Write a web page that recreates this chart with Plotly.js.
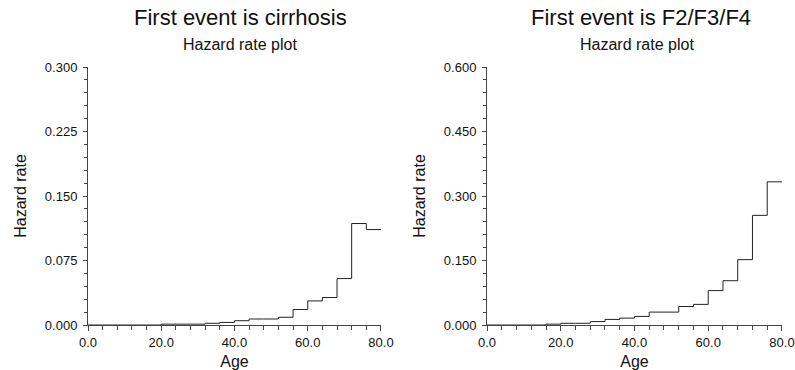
<!DOCTYPE html>
<html>
<head>
<meta charset="utf-8">
<script src="https://cdn.plot.ly/plotly-3.0.1.min.js"></script>
<style>html,body{margin:0;padding:0;background:#fff;}#chart{width:795px;height:370px;}</style>
</head>
<body>
<div id="chart"></div>
<script>
// Age bin edges (4-year intervals), last edge closes the final step
const ageEdges = [0, 4, 8, 12, 16, 20, 24, 28, 32, 36, 40, 44, 48, 52, 56, 60, 64, 68, 72, 76, 80];
// Hazard rate per bin, first event is cirrhosis
const hazardCirrhosis = [0, 0, 0, 0, 0, 0.001, 0.001, 0.001, 0.002, 0.003, 0.005, 0.007, 0.007, 0.009, 0.018, 0.028, 0.032, 0.054, 0.118, 0.111];
// Hazard rate per bin, first event is F2/F3/F4
const hazardF234 = [0, 0, 0, 0, 0.002, 0.004, 0.004, 0.008, 0.013, 0.016, 0.020, 0.030, 0.030, 0.043, 0.048, 0.080, 0.103, 0.152, 0.255, 0.333];

const titles = ["First event is cirrhosis", "First event is F2/F3/F4"];
const subtitle = "Hazard rate plot";
const xTickVals = [0, 20, 40, 60, 80];
const yTickValsLeft = [0, 0.075, 0.150, 0.225, 0.300];
const yTickValsRight = [0, 0.150, 0.300, 0.450, 0.600];

function stepY(v) { return v.concat([v[v.length - 1]]); }

const lineStyle = {color: '#222', width: 1, shape: 'hv'};
const traces = [
  {x: ageEdges, y: stepY(hazardCirrhosis), type: 'scatter', mode: 'lines', line: lineStyle, xaxis: 'x', yaxis: 'y', hoverinfo: 'x+y'},
  {x: ageEdges, y: stepY(hazardF234), type: 'scatter', mode: 'lines', line: lineStyle, xaxis: 'x2', yaxis: 'y2', hoverinfo: 'x+y'}
];

const font = 'Arial, "Liberation Sans", sans-serif';
function xAxis(domain, anchor) {
  return {
    domain: domain, anchor: anchor, range: [0, 80], tickvals: xTickVals, tickformat: '.1f',
    showgrid: false, zeroline: false, showline: true, linecolor: '#444', linewidth: 1,
    ticks: 'outside', ticklen: 5, tickcolor: '#444', tickwidth: 1,
    minor: {dtick: 4, tick0: 0, ticks: 'outside', ticklen: 4, tickcolor: '#444', showgrid: false},
    tickfont: {family: font, size: 13, color: '#111'},
    title: {text: 'Age', font: {family: font, size: 16, color: '#111'}, standoff: 7},
    fixedrange: true
  };
}
function yAxis(domain, anchor, maxv, tv, dm) {
  return {
    domain: domain, anchor: anchor, range: [0, maxv], tickvals: tv, tickformat: '.3f',
    showgrid: false, zeroline: false, showline: true, linecolor: '#444', linewidth: 1,
    ticks: 'outside', ticklen: 4, tickcolor: '#444', tickwidth: 1, ticklabelstandoff: 3,
    minor: {dtick: dm, tick0: 0, ticks: 'outside', ticklen: 3, tickcolor: '#444', showgrid: false},
    tickfont: {family: font, size: 13, color: '#111'},
    title: {text: 'Hazard rate', font: {family: font, size: 16, color: '#111'}, standoff: 14},
    fixedrange: true
  };
}

const yDom = [0.1216, 0.8189];
const layout = {
  width: 795, height: 370,
  margin: {l: 0, r: 0, t: 0, b: 0},
  paper_bgcolor: '#fff', plot_bgcolor: '#fff',
  showlegend: false,
  xaxis: xAxis([0.1107, 0.4792], 'y'),
  yaxis: yAxis(yDom, 'x', 0.3, yTickValsLeft, 0.015),
  xaxis2: xAxis([0.6126, 0.9836], 'y2'),
  yaxis2: yAxis(yDom, 'x2', 0.6, yTickValsRight, 0.03),
  annotations: [
    {text: titles[0], x: 240/795, y: 1 - 18/370, xref: 'paper', yref: 'paper', showarrow: false, xanchor: 'center', yanchor: 'middle', font: {family: font, size: 22, color: '#111'}},
    {text: subtitle, x: 240/795, y: 1 - 45/370, xref: 'paper', yref: 'paper', showarrow: false, xanchor: 'center', yanchor: 'middle', font: {family: font, size: 16, color: '#111'}},
    {text: titles[1], x: 641/795, y: 1 - 18/370, xref: 'paper', yref: 'paper', showarrow: false, xanchor: 'center', yanchor: 'middle', font: {family: font, size: 22, color: '#111'}},
    {text: subtitle, x: 637/795, y: 1 - 45/370, xref: 'paper', yref: 'paper', showarrow: false, xanchor: 'center', yanchor: 'middle', font: {family: font, size: 16, color: '#111'}}
  ]
};

Plotly.newPlot('chart', traces, layout, {displayModeBar: false, staticPlot: true});
</script>
</body>
</html>
